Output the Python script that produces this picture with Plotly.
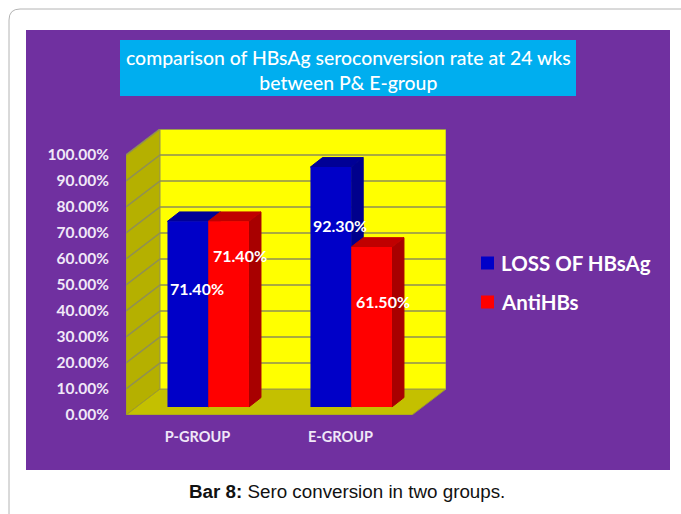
import plotly.graph_objects as go

categories = ["P-GROUP", "E-GROUP"]
series_names = ["LOSS OF HBsAg", "AntiHBs"]
loss_of_hbsag = [71.4, 92.3]
anti_hbs = [71.4, 61.5]
loss_label_y = [48.8, 72.7]
anti_label_y = [61.2, 43.8]
tick_values = [0, 10, 20, 30, 40, 50, 60, 70, 80, 90, 100]

PURPLE = "#7030A0"
BLUE = "#0000C8"
RED = "#FF0000"
FONT = "Lato"
WIDTH, HEIGHT = 681, 514
LEFT, RIGHT, TOP, BOTTOM = 126, 446, 129, 415

# axis units: one category is 143 px, ten percent is 26 px
X_MIN, X_MAX = -0.5, 1.738
Y_MAX = 110
WALL_DX, WALL_DY = 0.238, 10
BAR_DX, BAR_DY = 0.075, 3.1
BAR_WIDTH = 0.285
SIDE_DX, SIDE_DY = 0.084, 3.6


def paper_x(px):
    return (px - LEFT) / (RIGHT - LEFT)


def paper_y(py):
    return (BOTTOM - py) / (BOTTOM - TOP)


def polygon(points, color, line_color=None):
    path = "M " + " L ".join(f"{x},{y}" for x, y in points) + " Z"
    return dict(type="path", path=path, xref="x", yref="y", layer="below",
                fillcolor=color, line=dict(color=line_color or color, width=1))


def bar_faces(i, value, left, side_color, top_color):
    # the side and top of one 3D bar, worked out from its value
    x0 = i + BAR_DX + left
    x1 = x0 + BAR_WIDTH
    y0 = BAR_DY
    y1 = BAR_DY + value
    side = [(x1, y0), (x1 + SIDE_DX, y0 + SIDE_DY), (x1 + SIDE_DX, y1 + SIDE_DY), (x1, y1)]
    top = [(x0, y1), (x1, y1), (x1 + SIDE_DX, y1 + SIDE_DY), (x0 + SIDE_DX, y1 + SIDE_DY)]
    return [polygon(side, side_color), polygon(top, top_color)]


def paper_text(px, py, text, font, xanchor="center"):
    return dict(xref="paper", yref="paper", x=paper_x(px), y=paper_y(py), text=text, showarrow=False,
                xanchor=xanchor, yanchor="middle", font=font)


shapes = [
    dict(type="path", xref="paper", yref="paper", layer="below",
         path=f"M {paper_x(9)},{paper_y(514)} L {paper_x(9)},{paper_y(20)} "
              f"Q {paper_x(9)},{paper_y(9)} {paper_x(20)},{paper_y(9)} L {paper_x(681)},{paper_y(9)}",
         line=dict(color="#b4b4b4", width=1)),
    dict(type="rect", xref="paper", yref="paper", layer="below",
         x0=paper_x(26), x1=paper_x(670), y0=paper_y(470), y1=paper_y(30),
         fillcolor=PURPLE, line_width=0),
    dict(type="rect", xref="paper", yref="paper", layer="below",
         x0=paper_x(120), x1=paper_x(576), y0=paper_y(96), y1=paper_y(40),
         fillcolor="#00AEEF", line_width=0),
    polygon([(X_MIN, 0), (X_MIN + WALL_DX, WALL_DY), (X_MIN + WALL_DX, 100 + WALL_DY), (X_MIN, 100)],
            "#B5B000", "#9c9a30"),
    polygon([(X_MIN, 0), (1.5, 0), (1.5 + WALL_DX, WALL_DY), (X_MIN + WALL_DX, WALL_DY)],
            "#C4C000", "#9c9a30"),
    polygon([(X_MIN + WALL_DX, WALL_DY), (X_MAX, WALL_DY), (X_MAX, 100 + WALL_DY), (X_MIN + WALL_DX, 100 + WALL_DY)],
            "#FFFF00", "#9c9a50"),
]

for v in tick_values[1:]:
    shapes.append(dict(type="path", xref="x", yref="y", layer="below",
                       path=f"M {X_MIN},{v} L {X_MIN + WALL_DX},{v + WALL_DY} L {X_MAX},{v + WALL_DY}",
                       line=dict(color="#8f8f55", width=1.5)))

for i, value in enumerate(loss_of_hbsag):
    shapes += bar_faces(i, value, -BAR_WIDTH, "#00008C", "#000096")
for i, value in enumerate(anti_hbs):
    shapes += bar_faces(i, value, 0, "#A80000", "#C00000")

# legend swatches, the legend text sits closer to them than a plotly legend allows
for color, py in zip([BLUE, RED], [263, 302]):
    shapes.append(dict(type="rect", xref="paper", yref="paper", layer="below",
                       x0=paper_x(481), x1=paper_x(494), y0=paper_y(py + 6.5), y1=paper_y(py - 6.5),
                       fillcolor=color, line_width=0))

bar_x = [i + BAR_DX for i in range(len(categories))]

fig = go.Figure()
fig.add_trace(go.Bar(x=bar_x, y=loss_of_hbsag, base=BAR_DY, name=series_names[0],
                     width=BAR_WIDTH, offset=-BAR_WIDTH, marker=dict(color=BLUE, line_width=0)))
fig.add_trace(go.Bar(x=bar_x, y=anti_hbs, base=BAR_DY, name=series_names[1],
                     width=BAR_WIDTH, offset=0, marker=dict(color=RED, line_width=0)))

label_font = dict(family=FONT, size=16, color="white", weight="bold")
annotations = []
for i in range(len(categories)):
    annotations.append(dict(x=bar_x[i] - 0.08, y=loss_label_y[i], text=f"{loss_of_hbsag[i]:.2f}%",
                            showarrow=False, font=label_font))
    annotations.append(dict(x=bar_x[i] + 0.22, y=anti_label_y[i], text=f"{anti_hbs[i]:.2f}%",
                            showarrow=False, font=label_font))

annotations.append(paper_text(348, 70, "comparison of HBsAg seroconversion rate at 24 wks<br>between P& E-group",
                              dict(family=FONT, size=19.4, color="white", weight=500)))
annotations.append(paper_text(347, 491, "<b>Bar 8:</b> Sero conversion in two groups.",
                              dict(family="Liberation Sans", size=18.8, color="#111111")))
legend_font = dict(family=FONT, size=20.5, color="white", weight="bold")
annotations.append(paper_text(499, 263, series_names[0], legend_font, xanchor="left"))
annotations.append(paper_text(499, 302, series_names[1], legend_font, xanchor="left"))

fig.update_layout(
    width=WIDTH,
    height=HEIGHT,
    margin=dict(l=LEFT, r=WIDTH - RIGHT, t=TOP, b=HEIGHT - BOTTOM, pad=0),
    paper_bgcolor="white",
    plot_bgcolor="rgba(0,0,0,0)",
    shapes=shapes,
    annotations=annotations,
    showlegend=False,
    xaxis=dict(range=[X_MIN, X_MAX], tickvals=[0, 1], ticktext=categories, showgrid=False, zeroline=False,
               showline=False, ticks="outside", ticklen=9, tickcolor="rgba(0,0,0,0)",
               tickfont=dict(family=FONT, size=14.5, color="#F0E8F8", weight="bold")),
    yaxis=dict(range=[0, Y_MAX], tickvals=tick_values, ticktext=[f"{v:.2f}%" for v in tick_values],
               showgrid=False, zeroline=False, showline=False, ticks="outside", ticklen=13,
               tickcolor="rgba(0,0,0,0)",
               tickfont=dict(family=FONT, size=15.5, color="#F0E8F8", weight="bold")),
)

fig.write_html("out.html", config={"displayModeBar": False},
               post_script="document.body.style.margin='0';")
